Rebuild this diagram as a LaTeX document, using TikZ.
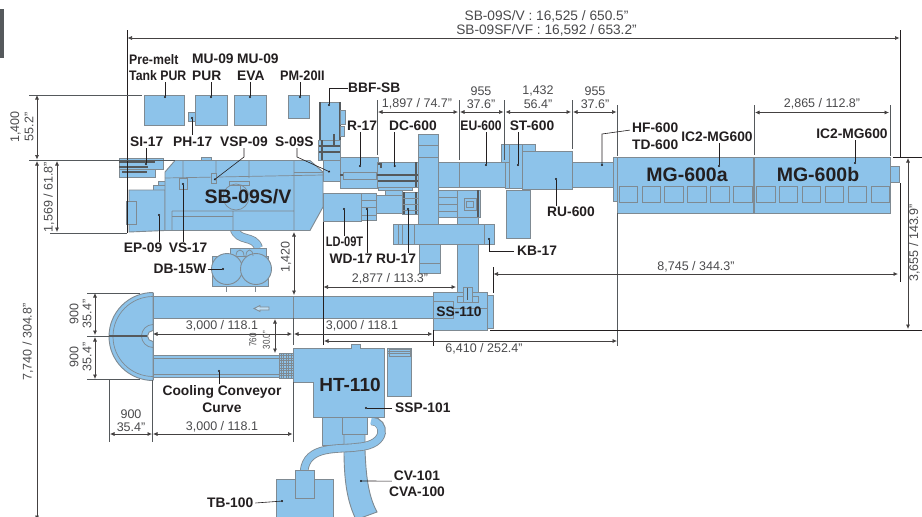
\documentclass[tikz,border=0pt]{standalone}
\usepackage{fontspec}
\setmainfont{Liberation Sans}
\usetikzlibrary{arrows.meta}
\definecolor{blu}{HTML}{8DC3EA}
\definecolor{gry}{HTML}{7F8A92}
\definecolor{dgr}{HTML}{55595C}
\definecolor{ink}{HTML}{231F20}
\definecolor{dtx}{HTML}{4A4A4C}
\tikzset{
  bx/.style={draw=gry,fill=blu,line width=.9pt},
  inl/.style={draw=gry,line width=.7pt},
  thk/.style={draw=dgr,line width=1.2pt},
  ext/.style={draw=dgr,line width=.8pt},
  dimn/.style={draw=ink!85,line width=.7pt,{Latex[length=4.5pt,width=4pt]}-{Latex[length=4.5pt,width=4pt]}},
  lead/.style={draw=ink,line width=.6pt,-{Circle[length=2pt]}},
  lab/.style={font=\fontsize{13.8}{15}\selectfont\bfseries,text=ink,inner sep=0pt},
  big/.style={font=\fontsize{19.5}{20}\selectfont\bfseries,text=ink,inner sep=0pt},
  dtext/.style={font=\fontsize{12.5}{13}\selectfont,text=dtx,inner sep=0pt},
  dtop/.style={dtext,font=\fontsize{13.7}{14}\selectfont},
  dsmall/.style={dtext,font=\fontsize{10}{11}\selectfont},
}
\newcommand{\rb}[4]{\draw[bx] (#1,#2) rectangle (#3,#4);}
\newcommand{\nar}[2]{\scalebox{#1}[1]{#2}}
\begin{document}
\begin{tikzpicture}[x=1pt,y=-1pt]
\useasboundingbox (0,0) rectangle (922,517);
\fill[white] (0,0) rectangle (922,517);
\fill[dgr] (0,9) rectangle (4,58);

%% ---- upper hoppers
\rb{144.5}{95}{184.5}{125.5}
\rb{195}{95}{227}{125.5}
\rb{234.5}{95}{266}{125.5}
\rb{288.5}{95}{309.5}{118}
\rb{188}{112.5}{195}{121}

%% ---- BBF-SB
\rb{320}{102}{340}{140}
\draw[thk] (320,102) -- (320,160) (340,102) -- (340,140);
\rb{340}{110}{345}{124}
\rb{340}{126}{344}{136}
\rb{318}{140}{340}{160}
\draw[thk] (319,146) -- (340,146) (319,152) -- (340,152) (322,140) -- (322,160) (334,134) -- (334,146);

%% ---- SI-17
\rb{119}{158}{163}{169}
\rb{119}{169}{155}{177}
\draw[thk] (119,162) -- (155,162) (119,167) -- (148,167) (122,172) -- (147,172);

%% ---- cooling conveyors
\rb{153}{296}{433}{318}
\draw[inl] (293,296) -- (293,318);
\draw[inl,fill=blu!55!white] (254,308.5) -- (260,305.5) -- (260,307) -- (269,307) -- (269,310) -- (260,310) -- (260,311.5) -- cycle;
\rb{153}{355}{279}{377}
\draw[inl] (153,358) -- (279,358) (153,374.5) -- (279,374.5);
\draw[bx] (279,353) rectangle (293,378);
\foreach \g in {281,283.5,...,292} \draw[gry,line width=.5pt] (\g,353) -- (\g,378);
\foreach \g in {355.5,358,...,377} \draw[gry,line width=.5pt] (279,\g) -- (293,\g);
\draw[bx] (153,292.5) arc[start angle=90,end angle=270,radius=44pt]
   -- (153,341.5) arc[start angle=270,end angle=90,radius=5.5pt] -- cycle;
\draw[inl] (153,296.5) arc[start angle=90,end angle=270,radius=40pt];
\draw[inl] (153,324.5) arc[start angle=90,end angle=270,radius=11.5pt];
\draw[thk] (109,336) -- (147,336);
\draw[inl] (153,292.5) -- (153,379.5);

%% ---- DB-15W
\draw[line width=9pt,gry] (234,228) .. controls (238,243) and (254,234) .. (258.5,248);
\draw[line width=7.4pt,blu] (234,228) .. controls (238,243) and (254,234) .. (258.5,248);
\rb{230}{248}{266}{262}
\rb{212}{256}{268}{286}
\draw[inl] (226,286) -- (226,292) (255,286) -- (255,292);
\draw[bx] (227,269) circle (15.5pt);
\draw[bx] (256,269) circle (15.5pt);
\draw[inl] (236,256) .. controls (236,248) and (244,248) .. (244,256) (246,256) .. controls (246,248) and (253,248) .. (253,256);

%% ---- SB-09S/V
\rb{201}{157}{211}{161}
\rb{158}{181}{165}{186}
\rb{153}{185}{165}{191}
\draw[bx] (129,190) -- (165,190) -- (165,230.5) -- (129,232) -- cycle;
\rb{126}{201}{136.5}{224}
\draw[bx] (175,160.5) -- (310,160.5) -- (323,172) -- (323,207) -- (310,230.5) -- (165,230.5) -- (165,172) -- cycle;
\draw[inl] (165,178) -- (323,175) (183,161) -- (183,178) (216,161) -- (216,178) (249,161) -- (249,178) (294,161) -- (294,230)
  (172,211) -- (294,211) (172,216.5) -- (233,216.5) (172,211) -- (172,230) (233,211) -- (233,230);
\draw[inl] (294,172) -- (323,172);
\rb{179}{178}{187}{189}
\rb{211}{173}{216.5}{183}
\draw[inl] (236,197) circle (13pt);
\draw[inl] (229,181) rectangle (249,185) (240,185) -- (240,190);

%% ---- S-09S / R-17 / DC-600
\rb{323}{160}{341}{181}
\rb{340}{157}{378}{188}
\rb{377}{162}{418}{187}
\rb{378}{187}{412}{190}
\draw[thk] (340,175) -- (418,175) (378,181) -- (418,181);
\draw[inl,fill=blu] (343,172) rectangle (376,179);
\draw[thk] (378,164) -- (381,164) -- (381,168);
\draw[thk] (416,162) -- (416,187);

%% ---- LD-09T etc.
\rb{323}{193}{361}{221}
\rb{361}{193}{376}{220}
\draw[inl] (361,200) -- (376,200) (361,207) -- (376,207) (361,215) -- (376,215);
\rb{376}{195}{402}{213}
\rb{402}{192}{418}{214}
\draw[thk] (404,192) -- (404,214) (416,192) -- (416,214);
\draw[inl] (402,198) -- (418,198) (402,204) -- (418,204) (402,210) -- (418,210);
\rb{385}{190}{402}{195}
\rb{438}{190}{457}{217}
\draw[inl] (438,197) -- (457,197) (438,204) -- (457,204) (438,211) -- (457,211);

%% ---- main conveyor
\rb{438}{162}{459}{187.5}
\rb{459}{162}{505}{187.5}
\rb{501}{144}{535}{162}
\rb{506}{190}{530}{238}
\rb{505}{162}{522}{188}
\rb{509}{144}{522}{188}
\rb{522}{151}{572}{189}
\rb{572}{162}{617}{187}

%% ---- tower and cross bars
\rb{457}{217}{478}{302}
\rb{419}{244}{440}{273}
\draw[inl] (419,263) -- (440,263);
\rb{418}{134}{438}{225}
\draw[inl] (418,145) -- (438,145) (418,157) -- (438,157);
\rb{457}{190}{480}{217}
\draw[thk] (478,190) -- (478,217);
\draw[inl] (464,198) rectangle (476,210) (466,201) rectangle (473,207);
\rb{393}{224}{494}{244}
\draw[inl] (402,224) -- (402,244) (414,224) -- (414,244) (484,224) -- (484,244) (398,224) -- (398,244);

%% ---- SS-110
\rb{487}{295}{493}{328}
\rb{433}{292}{487}{330}
\draw[inl] (433,301) rectangle (453,318);
\draw[inl] (453,308) -- (487,308);
\rb{457}{296}{478}{302}
\rb{463}{287}{472}{302}
\draw[thk] (467.5,288) -- (467.5,300);

%% ---- HT-110 and below
\rb{322}{417}{345}{445}
\rb{387}{348}{411.5}{396}
\draw[inl] (388,351) -- (411,351) (388,353) -- (411,353) (389,349) rectangle (410,356);
\draw[bx] (344,434) -- (365,434) -- (365,450) .. controls (366,475) and (368,495) .. (377,512) -- (362,517.5) -- (355,517.5) .. controls (347,500) and (344,480) .. (344,450) -- cycle;
\rb{342.5}{417}{367}{434}
\draw[gry,line width=8.5pt] (372,421) .. controls (385,421) and (389,445) .. (358,447) .. controls (340,450) and (306,444) .. (304,472);
\draw[blu,line width=6.8pt] (371,421) .. controls (385,421) and (389,445) .. (358,447) .. controls (340,450) and (306,444) .. (304,472);
\draw[bx] (293,348) -- (351,348) -- (351,344) -- (360,344) -- (360,348) -- (384,348) -- (384,417) -- (313,417) -- (313,382) -- (293,382) -- cycle;
\rb{276}{479.5}{333}{518}
\rb{295}{470}{314}{498}

%% ---- MG-600
\rb{613}{157}{620}{201}
\rb{617.5}{157}{890}{213}
\draw[gry,line width=1.2pt] (754,157) -- (754,213);
\foreach \i in {0,...,11} \draw[gry,line width=.8pt] ({619+22.9*\i},186) rectangle ++(18.5,16);
\rb{890}{166}{899}{182}

%% ---- extension lines
\draw[ext,ink] (127,30) -- (127,233);
\draw[ext,ink] (900,30) -- (900,157) (900,183) -- (900,282);
\draw[ext] (29,95) -- (142,95) (29,160) -- (175,160);
\draw[ext] (50,233) -- (127,233);
\draw[ext] (87,293) -- (140,293) (87,336) -- (110,336) (87,379) -- (140,379);
\draw[ext] (109,380) -- (109,442) (152.5,380) -- (152.5,442) (293,382) -- (293,442) (293,318) -- (293,345);
\draw[ext,ink] (323,222) -- (323,345);
\draw[ext] (377,100) -- (377,155) (459,100) -- (459,160) (504.5,100) -- (504.5,160) (572,100) -- (572,149);
\draw[ext] (617.5,105) -- (617.5,156) (617.5,213) -- (617.5,346) (754,105) -- (754,155) (890,105) -- (890,156);
\draw[ext,ink] (893,157.5) -- (922,157.5) (490,330) -- (922,330);
\draw[ext,ink] (493,267) -- (493,293) (433,330) -- (433,346);

%% ---- dimension arrows
\draw[dimn] (127.5,38) -- (899.5,38);
\draw[dimn] (37,95) -- (37,159.5);
\draw[dimn] (37,161) -- (37,520);
\draw[dimn] (57,161) -- (57,232);
\draw[dimn] (95,293) -- (95,335);
\draw[dimn] (95,337) -- (95,379);
\draw[dimn] (110,434) -- (152,434);
\draw[dimn] (153,434) -- (292.5,434);
\draw[dimn] (153,334) -- (292,334);
\draw[dimn] (294,334) -- (432.5,334);
\draw[dimn] (294,232) -- (294,295);
\draw[dimn] (275,319) -- (275,353);
\draw[dimn] (323.5,287) -- (456,287);
\draw[dimn] (324,341) -- (617,341);
\draw[dimn] (493.5,274) -- (898,274);
\draw[dimn] (908,158) -- (908,329);
\draw[dimn] (378,112) -- (458,112);
\draw[dimn] (460,112) -- (503.5,112);
\draw[dimn] (505.5,112) -- (571,112);
\draw[dimn] (573,112) -- (616.5,112);
\draw[dimn] (755,112.5) -- (889,112.5);

%% ---- dimension texts
\node[dtop] (d1) at (546.5,16) {SB-09S/V : 16,525 / 650.5"};
\node[dtop] (d2) at (546.5,30) {SB-09SF/VF : 16,592 / 653.2"};
\node[dtext,rotate=90] (d3) at (15.5,127) {1,400};
\node[dtext,rotate=90] (d4) at (29,127) {55.2"};
\node[dtext,rotate=90] (d5) at (49,197) {1,569 / 61.8"};
\node[dtext,rotate=90] (d6) at (28,342) {7,740 / 304.8"};
\node[dtext,rotate=90] (d7) at (74,314) {900};
\node[dtext,rotate=90] (d8) at (87,314) {35.4"};
\node[dtext,rotate=90] (d9) at (74,357) {900};
\node[dtext,rotate=90] (d10) at (87,357) {35.4"};
\node[dtext] (d11) at (131,414) {900};
\node[dtext] (d12) at (131,427) {35.4"};
\node[dtext] (d13) at (222,427) {3,000 / 118.1};
\node[dtext] (d14) at (222,326) {3,000 / 118.1};
\node[dtext] (d15) at (362,326) {3,000 / 118.1};
\node[dtext,rotate=90] (d16) at (286,257) {1,420};
\node[dsmall,rotate=90] (d17) at (253,340) {\nar{.8}{760}};
\node[dsmall,rotate=90] (d18) at (266.5,340) {\nar{.8}{30.0"}};
\node[dtext] (d19) at (390,279) {2,877 / 113.3"};
\node[dtext] (d20) at (484,349) {6,410 / 252.4"};
\node[dtext] (d21) at (696,267) {8,745 / 344.3"};
\node[dtext,rotate=90] (d22) at (914.5,243) {3,655 / 143.9"};
\node[dtext] (d23) at (417,104) {1,897 / 74.7"};
\node[dtext] (d24) at (481,91) {955};
\node[dtext] (d25) at (481,104) {37.6"};
\node[dtext] (d26) at (538,91) {1,432};
\node[dtext] (d27) at (538,104) {56.4"};
\node[dtext] (d28) at (595,91) {955};
\node[dtext] (d29) at (595,104) {37.6"};
\node[dtext] (d30) at (822,104) {2,865 / 112.8"};

%% ---- labels
\node[lab,anchor=west] (l1) at (129,60) {\nar{.89}{Pre-melt}};
\node[lab,anchor=west] (l2) at (129,76) {\nar{.89}{Tank PUR}};
\node[lab,anchor=west] (l3) at (192,59) {MU-09};
\node[lab,anchor=west] (l4) at (192,76) {PUR};
\node[lab,anchor=west] (l5) at (237,59) {MU-09};
\node[lab,anchor=west] (l6) at (237,76) {EVA};
\node[lab,anchor=west] (l7) at (280,76) {\nar{.92}{PM-20II}};
\node[lab,anchor=west] (l8) at (348,88) {BBF-SB};
\node[lab,anchor=west] (l9) at (130,142) {SI-17};
\node[lab,anchor=west] (l10) at (173,142) {PH-17};
\node[lab,anchor=west] (l11) at (220,142) {VSP-09};
\node[lab,anchor=west] (l12) at (275,142) {S-09S};
\node[lab] (l13) at (362,126) {R-17};
\node[lab] (l14) at (413,126) {DC-600};
\node[lab] (l15) at (481,126) {\nar{.88}{EU-600}};
\node[lab] (l16) at (532,126) {ST-600};
\node[lab,anchor=west] (l17) at (632,128) {HF-600};
\node[lab,anchor=west] (l18) at (632,145) {TD-600};
\node[lab] (l19) at (717,137) {IC2-MG600};
\node[lab] (l20) at (852,134) {IC2-MG600};
\node[lab] (l21) at (571,212) {RU-600};
\node[lab,anchor=west] (l22) at (517,251) {KB-17};
\node[lab] (l23) at (344.5,242) {\nar{.8}{LD-09T}};
\node[lab] (l24) at (351,259) {WD-17};
\node[lab] (l25) at (396,259) {RU-17};
\node[lab] (l26) at (143,248) {EP-09};
\node[lab] (l27) at (188,248) {VS-17};
\node[lab] (l28) at (180,269) {DB-15W};
\node[lab] (l29) at (459,312) {SS-110};
\node[lab,anchor=west] (l30) at (395,408) {SSP-101};
\node[lab] (l31) at (222,392) {Cooling Conveyor};
\node[lab] (l32) at (222,408) {Curve};
\node[lab,anchor=west] (l33) at (207,503) {TB-100};
\node[lab] (l34) at (417,476) {CV-101};
\node[lab] (l35) at (417,492) {CVA-100};
\node[big] (b1) at (248,197) {SB-09S/V};
\node[big] (b2) at (687,175) {MG-600a};
\node[big] (b3) at (818,175) {MG-600b};
\node[big,font=\fontsize{19}{20}\selectfont\bfseries] (b4) at (350,385) {HT-110};

%% ---- leaders
\coordinate (e1) at (165,98);
\coordinate (e2) at (211,98);
\coordinate (e3) at (250,98);
\coordinate (e4) at (300,98);
\coordinate (e5) at (192,117);
\coordinate (e6) at (329,106);
\coordinate (e7) at (146,165);
\coordinate (e8) at (214,180);
\coordinate (e9) at (330,172);
\coordinate (e10) at (360,167);
\coordinate (e11) at (394.7,167);
\coordinate (e12) at (486,166);
\coordinate (e13) at (518,166);
\coordinate (e14) at (602,166);
\coordinate (e15) at (719,167);
\coordinate (e16) at (855,164);
\coordinate (e17) at (556,178);
\coordinate (e18) at (489,238);
\coordinate (e19) at (344,208);
\coordinate (e20) at (367,208);
\coordinate (e21) at (408,208);
\coordinate (e22) at (159,214);
\coordinate (e23) at (183,183);
\coordinate (e24) at (224,269);
\coordinate (e25) at (219,370);
\coordinate (e26) at (365,408);
\coordinate (e27) at (283,501);
\coordinate (e28) at (360,481);
\draw[lead] (e1 |- l2.south) ++(0,1) -- (e1);
\draw[lead] (e2 |- l4.south) ++(0,1) -- (e2);
\draw[lead] (e3 |- l6.south) ++(0,1) -- (e3);
\draw[lead] (e4 |- l7.south) ++(0,1) -- (e4);
\draw[lead] (e5 |- l10.north) ++(0,-2) -- (e5);
\draw[lead] (l8.west) -- (e6 |- l8.west) -- (e6);
\draw[lead] (e7 |- l9.south) ++(0,1) -- (e7);
\draw[lead] (244,148) -- (244,157) -- (e8);
\draw[lead] (297,148) -- (297,157) -- (e9);
\draw[lead] (e10 |- l13.south) ++(0,1) -- (e10);
\draw[lead] (e11 |- l14.south) ++(0,1) -- (e11);
\draw[lead] (e12 |- l15.south) ++(0,1) -- (e12);
\draw[lead] (e13 |- l16.south) ++(0,1) -- (e13);
\draw[lead] (l17.south west) ++(-2,-3) -- (e14 |- 0,134) -- (e14);
\draw[lead] (e15 |- l19.south) ++(0,1) -- (e15);
\draw[lead] (e16 |- l20.south) ++(0,1) -- (e16);
\draw[lead] (e17 |- l21.north) ++(0,-1) -- (e17);
\draw[lead] (l22.west) ++(-3,0) -- (e18 |- l22.west) -- (e18);
\draw[lead] (e19 |- l23.north) ++(0,-1) -- (e19);
\draw[lead] (e20 |- l24.north) ++(0,-1) -- (e20);
\draw[lead] (e21 |- l25.north) ++(0,-1) -- (e21);
\draw[lead] (e22 |- l26.north) ++(0,-1) -- (e22);
\draw[lead] (e23 |- l27.north) ++(0,-1) -- (e23);
\draw[lead] (l28.east) ++(1,0) -- (e24);
\draw[lead] (e25 |- l31.north) ++(0,-1) -- (e25);
\draw[lead] (l30.west) ++(-3,0) -- (e26);
\draw[lead] (l33.east) ++(2,0) -- (e27);
\draw[lead] (l34.south west) ++(-2,0) -- (e28);
\end{tikzpicture}
\end{document}
